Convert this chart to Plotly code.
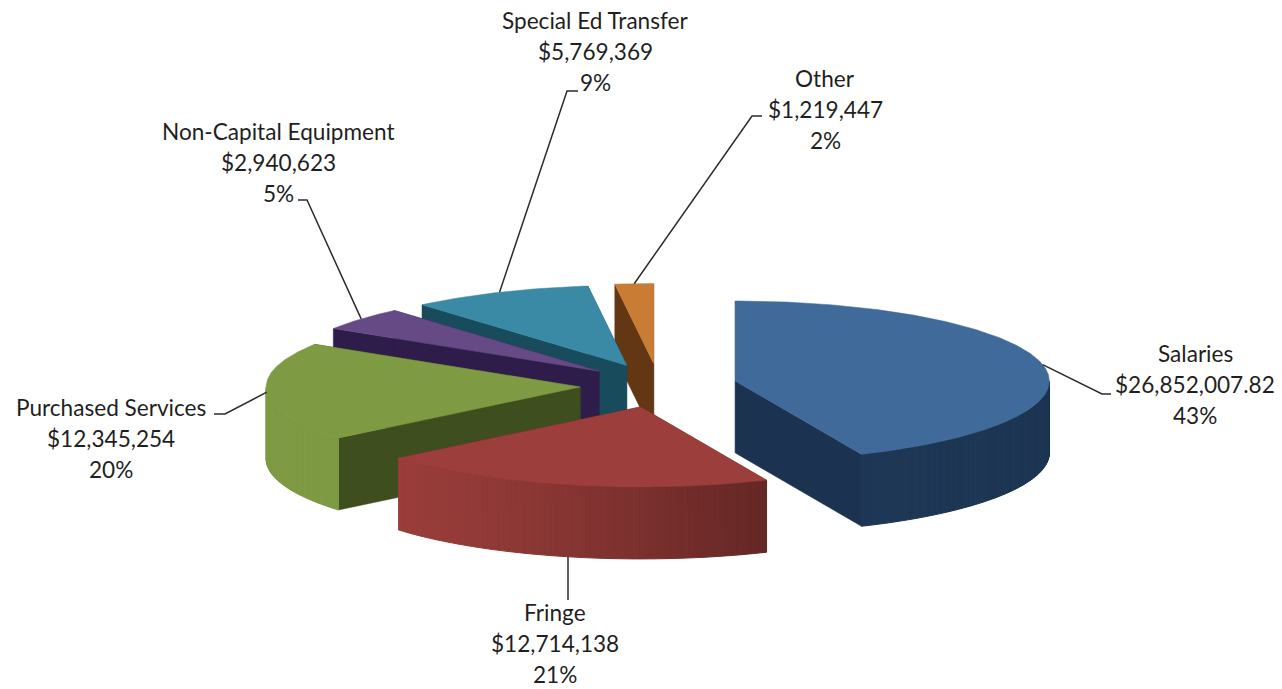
import numpy as np
import plotly.graph_objects as go

# Budget categories, in clockwise order from twelve o'clock
categories = ["Salaries", "Fringe", "Purchased Services",
              "Non-Capital Equipment", "Special Ed Transfer", "Other"]
amounts = [26852007.82, 12714138, 12345254, 2940623, 5769369, 1219447]

# Face colours per category
top_colors = ["#3F6A9A", "#9C3E3B", "#7E9A42", "#664A85", "#3A8AA6", "#C97C34"]
side_colors = ["#1B3350", "#5F2523", "#3F4E1F", "#2E1C4A", "#184C5C", "#643714"]

# Label block centre x, first-line y, and the elbow/end of each leader line
label_x = [1195, 555, 111, 278, 595, 825]
label_y = [353, 612.5, 407, 131, 20, 78]
leader_tail = [
    [(1102, 394), (1111, 394)],
    [(568, 600)],
    [(225, 414), (214, 414)],
    [(307, 200), (298, 200)],
    [(567, 91), (578, 91)],
    [(752, 116), (762, 116)],
]

# Projection of the tilted, exploded pie onto the page
CENTER = (658.5, 385.5)
RX, RY = 314.0, 80.0
EXPLODE_X, EXPLODE_Y = 78.5, 22.0
DEPTH = 72.0
LINE_PITCH = 31

# Blend from side colour (0) to top colour (1) along the curved outer wall
SHADE_ANGLE = [90, 156, 180, 205, 232, 270]
SHADE_VALUE = [0.0, 0.08, 0.45, 0.78, 1.0, 1.0]


def mix(color_a, color_b, t):
    a = [int(color_a[i:i + 2], 16) for i in (1, 3, 5)]
    b = [int(color_b[i:i + 2], 16) for i in (1, 3, 5)]
    t = float(np.clip(t, 0, 1))
    return "rgb({},{},{})".format(*[round(p + (q - p) * t) for p, q in zip(a, b)])


def polygon(xs, ys, color, outline=0.0):
    return go.Scatter(
        x=list(xs), y=list(ys), mode="lines", fill="toself", fillcolor=color,
        line=dict(color=color, width=outline), hoverinfo="skip", showlegend=False,
    )


shares = np.array(amounts) / sum(amounts)
edges = np.concatenate([[0.0], np.cumsum(shares) * 360.0])
mids = (edges[:-1] + edges[1:]) / 2.0


def apex(i):
    rad = np.radians(mids[i])
    return (CENTER[0] + EXPLODE_X * np.sin(rad), CENTER[1] - EXPLODE_Y * np.cos(rad))


def rim(i, degrees):
    ax, ay = apex(i)
    rad = np.radians(degrees)
    return (ax + RX * np.sin(rad), ay - RY * np.cos(rad))


fig = go.Figure()

# Painter's order: furthest wedge first, nearest last
for i in [5, 4, 3, 2, 1, 0]:
    ax, ay = apex(i)
    a0, a1 = edges[i], edges[i + 1]

    # Radial side walls
    for a in (a0, a1):
        rx_, ry_ = rim(i, a)
        fig.add_trace(polygon([ax, rx_, rx_, ax, ax],
                              [ay, ry_, ry_ + DEPTH, ay + DEPTH, ay],
                              side_colors[i], 0.5))

    # Curved outer wall, only where it faces the viewer
    lo, hi = max(a0, 90.0), min(a1, 270.0)
    if hi > lo:
        steps = np.linspace(lo, hi, max(2, int(hi - lo) + 1))
        for s0, s1 in zip(steps[:-1], steps[1:]):
            x0, y0 = rim(i, s0)
            x1, y1 = rim(i, s1)
            shade = mix(side_colors[i], top_colors[i],
                        np.interp((s0 + s1) / 2, SHADE_ANGLE, SHADE_VALUE))
            fig.add_trace(polygon([x0, x1, x1, x0, x0],
                                  [y0, y1, y1 + DEPTH, y0 + DEPTH, y0],
                                  shade, 1.0))

    # Top face
    arc = np.linspace(a0, a1, max(3, int((a1 - a0) * 1.5)))
    pts = [rim(i, a) for a in arc]
    fig.add_trace(polygon([ax] + [p[0] for p in pts] + [ax],
                          [ay] + [p[1] for p in pts] + [ay],
                          top_colors[i], 0.5))

# Leader lines from each wedge's rim midpoint out to its label
for i, tail in enumerate(leader_tail):
    sx, sy = rim(i, mids[i])
    if categories[i] == "Fringe":
        sx, sy = tail[0][0], sy + DEPTH
    xs = [sx] + [p[0] for p in tail]
    ys = [sy] + [p[1] for p in tail]
    fig.add_trace(go.Scatter(x=xs, y=ys, mode="lines",
                             line=dict(color="#2B2B2B", width=1.5),
                             hoverinfo="skip", showlegend=False))

# Three-line data labels: name, amount, share
for i, name in enumerate(categories):
    value = amounts[i]
    money = f"${value:,.2f}" if value != int(value) else f"${value:,.0f}"
    percent = f"{round(shares[i] * 100)}%"
    for k, text in enumerate((name, money, percent)):
        fig.add_annotation(x=label_x[i], y=label_y[i] + k * LINE_PITCH, text=text,
                           showarrow=False, xanchor="center", yanchor="middle",
                           font=dict(family="Lato", size=22.6, color="#1F1F1F"))

fig.update_layout(
    width=1282, height=689, margin=dict(l=0, r=0, t=0, b=0),
    paper_bgcolor="white", plot_bgcolor="white", showlegend=False,
    xaxis=dict(range=[0, 1282], visible=False, fixedrange=True),
    yaxis=dict(range=[689, 0], visible=False, fixedrange=True),
)

fig.write_html("out.html", config={"displayModeBar": False})
